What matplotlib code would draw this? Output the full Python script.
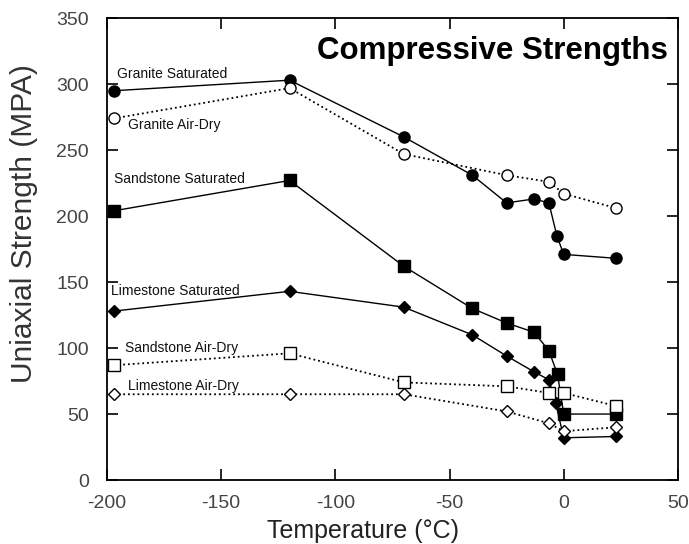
import matplotlib.pyplot as plt

plt.rcParams['font.family'] = ['Liberation Sans', 'DejaVu Sans']
plt.rcParams['axes.unicode_minus'] = False

# temperatures (deg C) and strengths (MPa)
granite_sat_t = [-197, -120, -70, -40, -25, -13, -6.5, -3, 0, 23]
granite_sat = [295, 303, 260, 231, 210, 213, 210, 185, 171, 168]

granite_dry_t = [-197, -120, -70, -25, -6.5, 0, 23]
granite_dry = [274, 297, 247, 231, 226, 217, 206]

sand_sat_t = [-197, -120, -70, -40, -25, -13, -6.5, -2.7, 0, 23]
sand_sat = [204, 227, 162, 130, 119, 112, 98, 80, 50, 50]

lime_sat_t = [-197, -120, -70, -40, -25, -13, -6.5, -3.5, 0, 23]
lime_sat = [128, 143, 131, 110, 94, 82, 76, 58, 32, 33]

sand_dry_t = [-197, -120, -70, -25, -6.5, 0, 23]
sand_dry = [87, 96, 74, 71, 66, 66, 56]

lime_dry_t = [-197, -120, -70, -25, -6.5, 0, 23]
lime_dry = [65, 65, 65, 52, 43, 37, 40]

labels = ["Granite Saturated", "Granite Air-Dry", "Sandstone Saturated",
          "Limestone Saturated", "Sandstone Air-Dry", "Limestone Air-Dry"]
label_pos = [(-195.5, 307.5), (-190.5, 269), (-197, 228),
             (-198, 143), (-192, 100), (-190.5, 71)]

fig = plt.figure(figsize=(6.89, 5.44), dpi=100)
ax = fig.add_axes([0.155, 0.1176, 0.829, 0.849])

ax.plot(granite_sat_t, granite_sat, '-', color='black', lw=1,
        marker='o', ms=8, mfc='black', mec='black')
ax.plot(granite_dry_t, granite_dry, ':', color='black', lw=1.3,
        marker='o', ms=8, mfc='white', mec='black')
ax.plot(sand_sat_t, sand_sat, '-', color='black', lw=1,
        marker='s', ms=8, mfc='black', mec='black')
ax.plot(lime_sat_t, lime_sat, '-', color='black', lw=1,
        marker='D', ms=6, mfc='black', mec='black')
ax.plot(sand_dry_t, sand_dry, ':', color='black', lw=1.3,
        marker='s', ms=8, mfc='white', mec='black')
ax.plot(lime_dry_t, lime_dry, ':', color='black', lw=1.3,
        marker='D', ms=6, mfc='white', mec='black')

for txt, (x, y) in zip(labels, label_pos):
    ax.text(x, y, txt, fontsize=10, ha='left', va='center', color='#111111')

ax.text(45.5, 325, "Compressive Strengths", fontsize=22.5, fontweight='bold',
        ha='right', va='center')

ax.set_xlim(-200, 50)
ax.set_ylim(0, 350)
ax.set_xticks([-200, -150, -100, -50, 0, 50])
ax.set_yticks(range(0, 351, 50))
ax.tick_params(direction='in', length=8, width=1.2, top=True, right=True,
               labelsize=14, labelcolor='#444444')
ax.tick_params(axis='y', pad=13)
ax.tick_params(axis='x', pad=11)
for s in ax.spines.values():
    s.set_linewidth(1.3)

ax.set_xlabel("Temperature (°C)", fontsize=18, color='#222222')
ax.set_ylabel("Uniaxial Strength (MPA)", fontsize=21.5, color='#333333')
ax.xaxis.set_label_coords(0.448, -0.085)
ax.yaxis.set_label_coords(-0.121, 0.556)

fig.savefig("out.png", dpi=100)
